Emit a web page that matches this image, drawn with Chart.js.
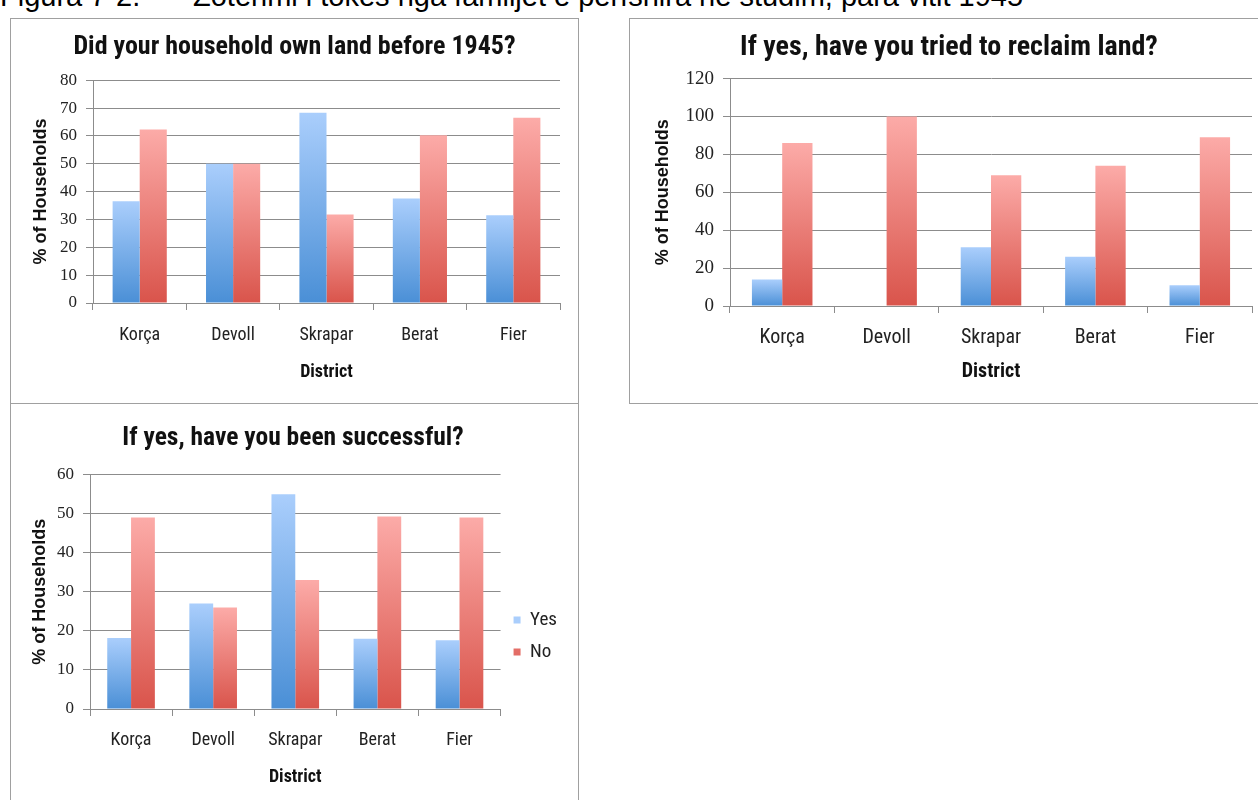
<!DOCTYPE html>
<html>
<head>
<meta charset="utf-8">
<script src="https://cdn.jsdelivr.net/npm/chart.js@4"></script>
<style>
    body { margin: 0; background: #fff; width: 1258px; height: 800px; overflow: hidden; position: relative; }
    .caption { position: absolute; left: 0; top: -20px; height: 29px; line-height: 29px; font: 29px "Liberation Sans", Arial, sans-serif; color: #000; white-space: nowrap; }
    .caption span { position: absolute; top: 0; }
    .panel { position: absolute; border: 1px solid #a0a0a0; background: #fff; }
    .panel canvas { display: block; }
</style>
</head>
<body>
<div class="caption"><span style="left:0">Figura 7-2.</span><span style="left:193px">Zotërimi i tokës nga familjet e përfshira në studim, para vitit 1945</span></div>
<div class="panel" style="left:10px; top:18px; width:567px; height:384px;"><canvas id="ownChart"></canvas></div>
<div class="panel" style="left:629px; top:18px; width:640px; height:384px;"><canvas id="reclaimChart"></canvas></div>
<div class="panel" style="left:10px; top:403px; width:567px; height:420px;"><canvas id="successChart"></canvas></div>
<script>
const districts = ['Korça', 'Devoll', 'Skrapar', 'Berat', 'Fier'];

const ownYes = [36.5, 50, 68.3, 37.5, 31.5];
const ownNo = [62.3, 50, 31.8, 60.2, 66.5];

const reclaimYes = [14, 0, 31, 26, 11];
const reclaimNo = [86, 100, 69, 74, 89];

const successYes = [18.2, 27, 55, 18, 17.6];
const successNo = [49, 26, 33, 49.3, 49];

const narrow = '"Roboto Condensed", "DejaVu Sans Condensed", sans-serif';
const serif = '"Liberation Serif", "DejaVu Serif", serif';

function barGradient(top, bottom) {
    return (ctx) => {
        const chart = ctx.chart;
        const y = chart.scales.y;
        if (ctx.type !== 'data' || !y) return bottom;
        const y0 = y.getPixelForValue(0);
        const y1 = y.getPixelForValue(ctx.raw);
        if (!isFinite(y0) || !isFinite(y1) || y0 === y1) return bottom;
        const g = chart.ctx.createLinearGradient(0, y1, 0, y0);
        g.addColorStop(0, top);
        g.addColorStop(1, bottom);
        return g;
    };
}

// s: sizes for one panel (axis box widths, paddings, font sizes)
function createChart(elementId, title, yes, no, yMax, step, s) {
    const ctx = document.getElementById(elementId);
    new Chart(ctx, {
        type: 'bar',
        data: {
            labels: districts,
            datasets: [{
                label: 'Yes',
                data: yes,
                backgroundColor: barGradient('#aacefc', '#4a8fd6'),
                borderWidth: 0
            }, {
                label: 'No',
                data: no,
                backgroundColor: barGradient('#fcaba8', '#d9544b'),
                borderWidth: 0
            }]
        },
        options: {
            responsive: true,
            maintainAspectRatio: false,
            animation: false,
            layout: { padding: s.padding },
            datasets: {
                bar: { categoryPercentage: 0.58, barPercentage: 1 }
            },
            plugins: {
                title: {
                    display: true,
                    text: title,
                    color: '#111',
                    font: { family: narrow, size: s.titleSize, weight: 'bold' },
                    padding: { top: 0, bottom: s.titleGap }
                },
                legend: {
                    display: !!s.legend,
                    position: 'right',
                    align: 'center',
                    title: { display: !!s.legend, text: '', font: { size: 1 }, padding: { top: s.legendShift || 0, bottom: 0 } },
                    labels: {
                        boxWidth: 7,
                        boxHeight: 7,
                        color: '#222',
                        font: { family: narrow, size: 19 },
                        padding: 13
                    }
                },
                tooltip: { enabled: false }
            },
            scales: {
                x: {
                    afterFit: (scale) => { scale.height = s.xHeight; },
                    grid: { drawOnChartArea: false, drawTicks: true, tickLength: 7, color: '#8c8c8c' },
                    border: { color: '#8c8c8c' },
                    ticks: { color: '#222', font: { family: narrow, size: s.labelSize }, padding: s.labelPad },
                    title: {
                        display: true,
                        text: 'District',
                        color: '#111',
                        font: { family: narrow, size: s.labelSize, weight: 'bold' },
                        padding: { top: 0, bottom: s.districtBottom }
                    }
                },
                y: {
                    min: 0,
                    max: yMax,
                    afterFit: (scale) => { scale.width = s.yWidth; },
                    ticks: { stepSize: step, color: '#222', font: { family: serif, size: s.tickSize }, padding: 9 },
                    grid: { color: '#8c8c8c', tickLength: 7 },
                    border: { color: '#8c8c8c' },
                    title: {
                        display: true,
                        text: '% of Households',
                        color: '#111',
                        font: { family: '"Liberation Sans", Arial, sans-serif', size: 18, weight: 'bold' },
                        padding: { top: s.yTitleLeft, bottom: 0 }
                    }
                }
            }
        }
    });
}

createChart('ownChart', 'Did your household own land before 1945?', ownYes, ownNo, 80, 10, {
    padding: { left: 18, right: 18, top: 13, bottom: 0 },
    titleSize: 26, titleGap: 17, labelSize: 18, labelPad: 15, tickSize: 17,
    yWidth: 64, xHeight: 100, districtBottom: 20, yTitleLeft: 1
});
createChart('reclaimChart', 'If yes, have you tried to reclaim land?', reclaimYes, reclaimNo, 120, 20, {
    padding: { left: 16, right: 18, top: 12, bottom: 0 },
    titleSize: 28, titleGap: 14, labelSize: 20, labelPad: 13, tickSize: 19,
    yWidth: 84, xHeight: 97, districtBottom: 19, yTitleLeft: 6
});
createChart('successChart', 'If yes, have you been successful?', successYes, successNo, 60, 10, {
    padding: { left: 8, right: 11, top: 19, bottom: 0 },
    titleSize: 25.5, titleGap: 21, labelSize: 18, labelPad: 14, tickSize: 17,
    yWidth: 71, xHeight: 115, districtBottom: 36, yTitleLeft: 10,
    legend: true, legendShift: 24
});
</script>
</body>
</html>
